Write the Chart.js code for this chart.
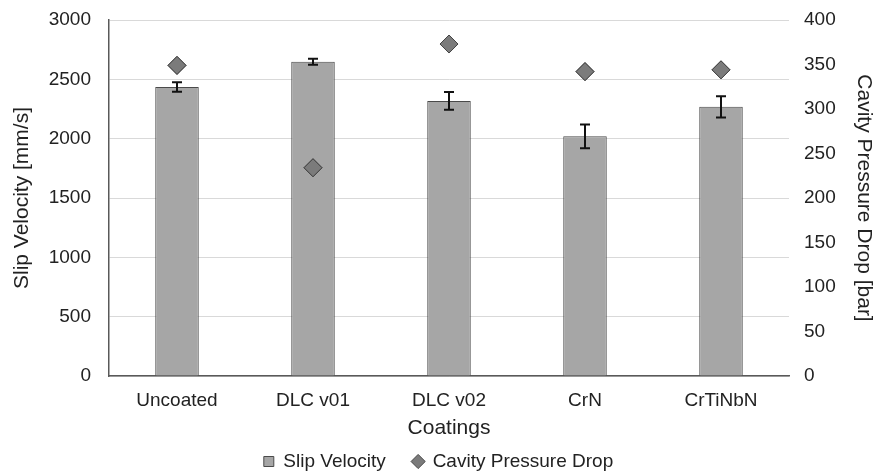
<!DOCTYPE html>
<html>
<head>
<meta charset="utf-8">
<script src="https://cdn.jsdelivr.net/npm/chart.js@4"></script>
<style>
  html, body { margin: 0; padding: 0; background: #fff; }
  #wrap { width: 877px; height: 472px; }
</style>
</head>
<body>
<div id="wrap"><canvas id="grafico"></canvas></div>
<script>
const coatings = ['Uncoated', 'DLC v01', 'DLC v02', 'CrN', 'CrTiNbN'];
const slipVelocity = [2435, 2648, 2318, 2020, 2268];
const slipError = [40, 25, 75, 100, 90];
const pressureDrop = [349, 234, 373, 342, 344];

const leftTicks = [0, 500, 1000, 1500, 2000, 2500, 3000];
const rightTicks = [0, 50, 100, 150, 200, 250, 300, 350, 400];

// barras de erro desenhadas por cima das colunas
const errorBars = {
    id: 'errorBars',
    afterDatasetsDraw(chart) {
        const ctx = chart.ctx;
        const meta = chart.getDatasetMeta(0);
        const y = chart.scales.y;
        ctx.save();
        ctx.strokeStyle = '#111';
        ctx.lineWidth = 2;
        meta.data.forEach((bar, i) => {
            const top = y.getPixelForValue(slipVelocity[i] + slipError[i]);
            const bot = y.getPixelForValue(slipVelocity[i] - slipError[i]);
            ctx.beginPath();
            ctx.moveTo(bar.x, top); ctx.lineTo(bar.x, bot);
            ctx.moveTo(bar.x - 5, top); ctx.lineTo(bar.x + 5, top);
            ctx.moveTo(bar.x - 5, bot); ctx.lineTo(bar.x + 5, bot);
            ctx.stroke();
        });
        ctx.restore();
        // losangos por cima das barras de erro
        chart.getDatasetMeta(1).data.forEach(p => p.draw(ctx, chart.chartArea));
    }
};

const familia = 'Liberation Sans, Arial, sans-serif';
const fonte = { family: familia, size: 19 };
const fonteTitulo = { family: familia, size: 21 };

// fixa a largura do eixo e tira o recuo automático
function fixaEixo(largura) {
    return s => { s.width = largura; s.paddingTop = 0; s.paddingBottom = 0; };
}

new Chart(document.getElementById('grafico'), {
    type: 'bar',
    data: {
        labels: coatings,
        datasets: [{
            label: 'Slip Velocity',
            data: slipVelocity,
            backgroundColor: '#a6a6a6',
            borderColor: '#4a4a4a',
            borderWidth: 1,
            barPercentage: 0.32,
            categoryPercentage: 1,
            yAxisID: 'y',
            order: 2
        }, {
            type: 'line',
            label: 'Cavity Pressure Drop',
            data: pressureDrop,
            showLine: false,
            pointStyle: 'rectRot',
            pointRadius: 9,
            pointHoverRadius: 9,
            backgroundColor: '#7b7b7b',
            borderColor: '#444',
            borderWidth: 1,
            yAxisID: 'y2',
            order: 1
        }]
    },
    options: {
        responsive: true,
        maintainAspectRatio: false,
        animation: false,
        layout: { padding: { top: 20, right: 0, left: 0, bottom: 0 } },
        plugins: {
            tooltip: { enabled: false },
            legend: {
                position: 'bottom',
                maxHeight: 21,
                labels: {
                    usePointStyle: true,
                    color: '#222',
                    font: fonte,
                    padding: 1,
                    boxWidth: 10,
                    boxHeight: 10,
                    generateLabels(chart) {
                        return [{
                            text: 'Slip Velocity     ', pointStyle: 'rect', fillStyle: '#a6a6a6',
                            strokeStyle: '#4a4a4a', lineWidth: 1, datasetIndex: 0, fontColor: '#222'
                        }, {
                            text: 'Cavity Pressure Drop', pointStyle: 'rectRot', fillStyle: '#7b7b7b',
                            strokeStyle: '#444', lineWidth: 1, datasetIndex: 1, fontColor: '#222'
                        }];
                    }
                }
            }
        },
        scales: {
            x: {
                afterFit: s => { s.height = 75; },
                grid: { display: false, drawTicks: false },
                border: { color: '#595959', width: 1.5 },
                ticks: { color: '#222', font: fonte, padding: 13 },
                title: { display: true, text: 'Coatings', color: '#222', font: fonteTitulo, padding: { top: 0, bottom: 10 } }
            },
            y: {
                position: 'left',
                min: 0, max: 3000,
                afterFit: fixaEixo(109),
                afterBuildTicks: axis => { axis.ticks = leftTicks.map(v => ({ value: v })); },
                grid: { color: '#d9d9d9', drawTicks: false },
                border: { color: '#595959', width: 1.5 },
                ticks: { color: '#222', font: fonte, padding: 18, callback: v => String(v) },
                title: { display: true, text: 'Slip Velocity [mm/s]', color: '#222', font: fonteTitulo, padding: { top: 10, bottom: 0 } }
            },
            y2: {
                position: 'right',
                min: 0, max: 400,
                afterFit: fixaEixo(88),
                afterBuildTicks: axis => { axis.ticks = rightTicks.map(v => ({ value: v })); },
                grid: { display: false, drawTicks: false },
                border: { display: false },
                ticks: { color: '#222', font: fonte, padding: 15, callback: v => String(v) },
                title: { display: true, text: 'Cavity Pressure Drop [bar]', color: '#222', font: fonteTitulo, padding: { top: 1, bottom: 0 } }
            }
        }
    },
    plugins: [errorBars]
});
</script>
</body>
</html>
